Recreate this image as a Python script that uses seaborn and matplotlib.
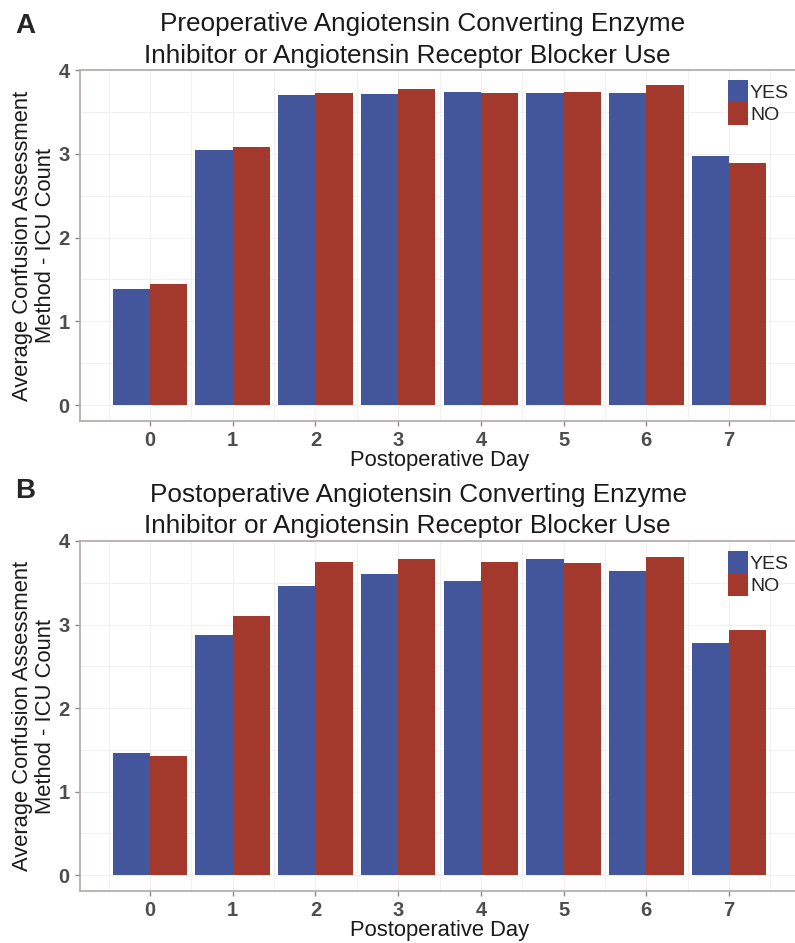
import numpy as np
import pandas as pd
import matplotlib
matplotlib.use("Agg")
import matplotlib.pyplot as plt
import seaborn as sns

# values
days = [0, 1, 2, 3, 4, 5, 6, 7]
groups = ["YES", "NO"]
pre_yes = [1.38, 3.05, 3.70, 3.71, 3.74, 3.73, 3.72, 2.97]
pre_no = [1.44, 3.08, 3.73, 3.77, 3.72, 3.74, 3.82, 2.89]
post_yes = [1.46, 2.87, 3.46, 3.60, 3.52, 3.78, 3.64, 2.78]
post_no = [1.43, 3.10, 3.75, 3.78, 3.75, 3.74, 3.81, 2.94]
yticks = [0, 1, 2, 3, 4]

title_pre = ["Preoperative Angiotensin Converting Enzyme",
             "Inhibitor or Angiotensin Receptor Blocker Use"]
title_post = ["Postoperative Angiotensin Converting Enzyme",
              "Inhibitor or Angiotensin Receptor Blocker Use"]

palette = {"YES": "#43559B", "NO": "#A3382C"}
FONT = ["Liberation Sans", "DejaVu Sans"]


def long_frame(yes, no):
    return pd.DataFrame({
        "day": days * 2,
        "group": ["YES"] * len(days) + ["NO"] * len(days),
        "value": list(yes) + list(no),
    })


sns.set_theme(style="white")
plt.rcParams["font.family"] = FONT

W, H = 795, 943
fig = plt.figure(figsize=(W / 100, H / 100), dpi=100)


def panel(top, bottom, df, letter, title, letter_base, title_bases, title_x, leg_top):
    ax = fig.add_axes([80 / W, 1 - bottom / H, 719 / W, (bottom - top) / H])
    sns.barplot(data=df, x="day", y="value", hue="group", hue_order=groups,
                palette=palette, width=0.9, gap=0, saturation=1,
                linewidth=0, ax=ax)
    ax.set_xlim(-0.845, 7.845)
    ax.set_ylim(-0.19, 4.0)
    ax.set_yticks(yticks)
    ax.set_yticks(np.arange(0.5, 4, 1), minor=True)
    ax.set_xticks(np.arange(-0.5, 8, 1), minor=True)
    ax.set_axisbelow(True)
    ax.grid(True, which="both", color="#f0f0f0", linewidth=0.8)
    for s in ax.spines.values():
        s.set_color("#b5b0ad")
        s.set_linewidth(1.3)
    ax.tick_params(axis="both", which="major", length=3.5, width=1,
                   color="#8a8a8a", labelsize=14.5, labelcolor="#4d4d4d",
                   bottom=True, left=True, pad=4)
    ax.tick_params(which="minor", length=0)
    for lab in ax.get_xticklabels() + ax.get_yticklabels():
        lab.set_fontweight("bold")
    ax.set_xlabel("Postoperative Day", fontsize=15.8, color="#1a1a1a", labelpad=0)
    ax.set_ylabel("Average Confusion Assessment\nMethod - ICU Count",
                  fontsize=15.8, color="#1a1a1a", labelpad=2, linespacing=1.08)
    ax.legend(loc="upper left", bbox_to_anchor=(728 / W, 1 - leg_top / H),
              bbox_transform=fig.transFigure, frameon=False,
              borderpad=0, borderaxespad=0, labelspacing=0,
              handlelength=1.05, handleheight=1.4, handletextpad=0.08,
              fontsize=14)
    fig.text(15 / W, 1 - letter_base / H, letter, fontsize=20, fontweight="bold",
             va="baseline", ha="left")
    for line, base, cx in zip(title, title_bases, title_x):
        fig.text(cx / W, 1 - base / H, line, fontsize=18.8, va="baseline",
                 ha="center", color="#1a1a1a")
    return ax


axA = panel(70, 421, long_frame(pre_yes, pre_no), "A", title_pre,
            33, [31, 63], [423, 407], 80)
axB = panel(541, 891, long_frame(post_yes, post_no), "B", title_post,
            498, [502, 533], [418, 407], 551)

fig.savefig("out.png", dpi=100)
